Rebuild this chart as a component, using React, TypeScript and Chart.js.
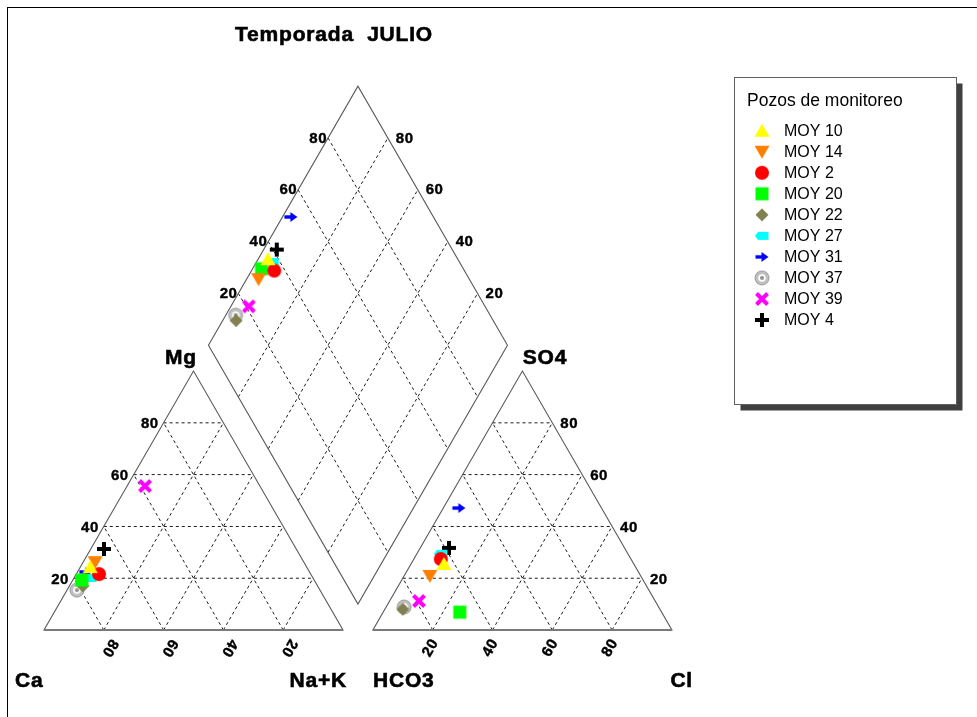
import React, { useEffect, useRef } from "react";
import { Chart, registerables } from "chart.js";

Chart.register(...registerables);

// ---------------- data (percent of meq) ----------------
const chartTitle = "Temporada  JULIO";
const legendTitle = "Pozos de monitoreo";
const samples = ["MOY 10", "MOY 14", "MOY 2", "MOY 20", "MOY 22", "MOY 27", "MOY 31", "MOY 37", "MOY 39", "MOY 4"];
const caPct = [72.4, 69.8, 70.8, 77.7, 78.5, 74.6, 74.8, 81.3, 38.4, 64.3];
const mgPct = [24.3, 26.2, 21.6, 19.3, 17.0, 20.1, 22.4, 15.4, 55.6, 31.3];
const naKPct = [3.3, 4.0, 7.6, 3.0, 4.5, 5.3, 2.8, 3.3, 6.0, 4.4];
const hco3Pct = [63.5, 70.5, 63.6, 67.5, 86.0, 62.6, 47.7, 85.1, 79.0, 58.7];
const so4Pct = [25.5, 20.9, 27.4, 6.9, 8.0, 29.4, 47.1, 8.9, 11.2, 31.7];
const clPct = [11.0, 8.6, 9.0, 25.6, 6.0, 8.0, 5.2, 6.0, 9.8, 9.6];
const gridLevels = [20, 40, 60, 80];
const markerColors = ["#ffff00", "#ff8000", "#ff0000", "#00ff00", "#808050", "#00ffff", "#0000ff", "#c0c0c0", "#ff00ff", "#000000"];
const markerShapes = ["triUp", "triDown", "circle", "square", "diamond", "tag", "arrow", "ring", "xcross", "plus"];

// ---------------- geometry ----------------
const W = 977;
const H = 717;
const SQ = Math.sqrt(3) / 2;
const GAP = 10;
const PX = 2.99;
const OX = 44;
const OY = 630;

type Pt = { x: number; y: number };
const cationXY = (mg: number, na: number): Pt => ({ x: na + mg / 2, y: mg * SQ });
const anionXY = (so4: number, cl: number): Pt => ({ x: 100 + GAP + cl + so4 / 2, y: so4 * SQ });
const diamondXY = (na: number, an: number): Pt => {
  const t = 100 + GAP + an - na;
  return { x: na + t / 2, y: t * SQ };
};

function makeMarker(shape: string, color: string): HTMLCanvasElement {
  const c = document.createElement("canvas");
  c.width = 20;
  c.height = 20;
  const g = c.getContext("2d")!;
  g.fillStyle = color;
  g.strokeStyle = color;
  const poly = (pts: number[][]) => {
    g.beginPath();
    g.moveTo(pts[0][0], pts[0][1]);
    for (let i = 1; i < pts.length; i++) g.lineTo(pts[i][0], pts[i][1]);
    g.closePath();
    g.fill();
  };
  switch (shape) {
    case "triUp":
      poly([[10, 3], [17.5, 16], [2.5, 16]]);
      break;
    case "triDown":
      poly([[2.5, 4], [17.5, 4], [10, 17]]);
      break;
    case "circle":
      g.beginPath();
      g.arc(10, 10, 7, 0, Math.PI * 2);
      g.fill();
      break;
    case "square":
      g.fillRect(3.5, 3.5, 13, 13);
      break;
    case "diamond":
      poly([[10, 3.5], [16.5, 10], [10, 16.5], [3.5, 10]]);
      break;
    case "tag":
      poly([[3, 10], [6, 6], [16.5, 6], [16.5, 14], [6, 14]]);
      break;
    case "arrow":
      g.fillRect(3.5, 8.3, 7, 3.4);
      poly([[9.5, 5], [16.5, 10], [9.5, 15]]);
      break;
    case "ring":
      g.beginPath();
      g.arc(10, 10, 7, 0, Math.PI * 2);
      g.fill();
      g.strokeStyle = "#9a9a9a";
      g.lineWidth = 1;
      g.stroke();
      g.fillStyle = "#ffffff";
      g.beginPath();
      g.arc(10, 10, 3.8, 0, Math.PI * 2);
      g.fill();
      g.fillStyle = "#909090";
      g.beginPath();
      g.arc(10, 10, 2, 0, Math.PI * 2);
      g.fill();
      break;
    case "xcross":
      g.lineWidth = 4;
      g.beginPath();
      g.moveTo(4.5, 4.5);
      g.lineTo(15.5, 15.5);
      g.moveTo(15.5, 4.5);
      g.lineTo(4.5, 15.5);
      g.stroke();
      break;
    case "plus":
      g.lineWidth = 4;
      g.beginPath();
      g.moveTo(10, 3);
      g.lineTo(10, 17);
      g.moveTo(3, 10);
      g.lineTo(17, 10);
      g.stroke();
      break;
  }
  return c;
}

function heavyText(ctx: CanvasRenderingContext2D, t: string, x: number, y: number) {
  ctx.fillText(t, x, y);
  ctx.strokeText(t, x, y);
}

const piperPlugin = {
  id: "piperFrame",
  beforeDatasetsDraw(chart: any) {
    const ctx: CanvasRenderingContext2D = chart.ctx;
    const xs = chart.scales.x;
    const ys = chart.scales.y;
    const P = (p: Pt) => [xs.getPixelForValue(p.x), ys.getPixelForValue(p.y)];
    const seg = (a: Pt, b: Pt) => {
      const [x1, y1] = P(a);
      const [x2, y2] = P(b);
      ctx.beginPath();
      ctx.moveTo(x1, y1);
      ctx.lineTo(x2, y2);
      ctx.stroke();
    };
    ctx.save();
    // outer frame
    ctx.strokeStyle = "#000";
    ctx.lineWidth = 1;
    ctx.strokeRect(7.5, 7.5, 1400, 1400);

    // dashed grid
    ctx.setLineDash([3, 3]);
    ctx.strokeStyle = "#000";
    ctx.lineWidth = 0.9;
    for (const k of gridLevels) {
      // cation
      seg(cationXY(k, 0), cationXY(k, 100 - k));
      seg(cationXY(0, k), cationXY(100 - k, k));
      seg(cationXY(0, 100 - k), cationXY(100 - k, 0));
      // anion
      seg(anionXY(k, 0), anionXY(k, 100 - k));
      seg(anionXY(0, k), anionXY(100 - k, k));
      seg(anionXY(0, 100 - k), anionXY(100 - k, 0));
      // diamond
      seg(diamondXY(k, 0), diamondXY(k, 100));
      seg(diamondXY(0, k), diamondXY(100, k));
    }
    ctx.setLineDash([]);

    // outlines
    ctx.strokeStyle = "#5a5a5a";
    ctx.lineWidth = 1.1;
    const poly = (pts: Pt[]) => {
      ctx.beginPath();
      pts.forEach((p, i) => {
        const [x, y] = P(p);
        if (i === 0) ctx.moveTo(x, y);
        else ctx.lineTo(x, y);
      });
      ctx.closePath();
      ctx.stroke();
    };
    poly([cationXY(0, 0), cationXY(0, 100), cationXY(100, 0)]);
    poly([anionXY(0, 0), anionXY(0, 100), anionXY(100, 0)]);
    poly([diamondXY(0, 0), diamondXY(0, 100), diamondXY(100, 100), diamondXY(100, 0)]);
    // thicker bases
    ctx.strokeStyle = "#7a7a7a";
    ctx.lineWidth = 2;
    seg(cationXY(0, 0), cationXY(0, 100));
    seg(anionXY(0, 0), anionXY(0, 100));

    // labels
    ctx.fillStyle = "#000";
    ctx.strokeStyle = "#000";
    ctx.lineWidth = 0.6;
    (ctx as any).letterSpacing = "0.8px";
    ctx.font = "bold 21px 'Liberation Sans', Arial, sans-serif";
    ctx.textBaseline = "alphabetic";
    ctx.textAlign = "center";
    heavyText(ctx, chartTitle, 334, 41);
    heavyText(ctx, "Mg", 181, 364);
    heavyText(ctx, "SO4", 545, 364);
    ctx.textAlign = "left";
    heavyText(ctx, "Ca", 15, 687);
    heavyText(ctx, "HCO3", 373, 687);
    ctx.textAlign = "right";
    heavyText(ctx, "Na+K", 347, 687);
    heavyText(ctx, "Cl", 693, 687);

    (ctx as any).letterSpacing = "0.5px";
    ctx.font = "bold 15px 'Liberation Sans', Arial, sans-serif";
    ctx.lineWidth = 0.4;
    for (const k of gridLevels) {
      let [x, y] = P(cationXY(k, 0));
      ctx.textAlign = "right";
      heavyText(ctx, String(k), x - 5, y + 5.5);
      [x, y] = P(anionXY(k, 100 - k));
      ctx.textAlign = "left";
      heavyText(ctx, String(k), x + 8, y + 5.5);
      [x, y] = P(diamondXY(0, k));
      ctx.textAlign = "right";
      heavyText(ctx, String(k), x - 1, y + 4.5);
      [x, y] = P(diamondXY(100 - k, 100));
      ctx.textAlign = "left";
      heavyText(ctx, String(k), x + 8, y + 4.5);
    }
    ctx.textAlign = "center";
    ctx.textBaseline = "middle";
    for (const k of gridLevels) {
      let [x, y] = P(cationXY(0, k));
      ctx.save();
      ctx.translate(x + 6, y + 18);
      ctx.rotate((2 * Math.PI) / 3);
      heavyText(ctx, String(100 - k), 0, 0);
      ctx.restore();
      [x, y] = P(anionXY(0, k));
      ctx.save();
      ctx.translate(x - 2, y + 18);
      ctx.rotate(-Math.PI / 3);
      heavyText(ctx, String(k), 0, 0);
      ctx.restore();
    }
    ctx.restore();
  },
  afterDraw(chart: any) {
    const ctx: CanvasRenderingContext2D = chart.ctx;
    ctx.save();
    const bx = 734.5, by = 77.5, bw = 222, bh = 327;
    ctx.fillStyle = "#404040";
    ctx.fillRect(bx + 6, by + 6, bw, bh);
    ctx.fillStyle = "#ffffff";
    ctx.fillRect(bx, by, bw, bh);
    ctx.strokeStyle = "#606060";
    ctx.lineWidth = 1;
    ctx.strokeRect(bx, by, bw, bh);
    ctx.fillStyle = "#000";
    ctx.textAlign = "left";
    ctx.textBaseline = "middle";
    ctx.font = "17.5px 'Liberation Sans', Arial, sans-serif";
    ctx.fillText(legendTitle, 747, 101);
    ctx.font = "16px 'Liberation Sans', Arial, sans-serif";
    chart.data.datasets.forEach((ds: any, i: number) => {
      const y = 130.7 + i * 21.03;
      const img = ds.pointStyle as HTMLCanvasElement;
      ctx.drawImage(img, 762 - img.width / 2, y - img.height / 2);
      ctx.fillText(ds.label, 784, y + 1);
    });
    ctx.restore();
  },
};

export default function App() {
  const ref = useRef<HTMLCanvasElement>(null);
  useEffect(() => {
    const datasets = samples.map((name, i) => ({
      label: name,
      data: [
        cationXY(mgPct[i], naKPct[i]),
        anionXY(so4Pct[i], clPct[i]),
        diamondXY(naKPct[i], so4Pct[i] + clPct[i]),
      ],
      pointStyle: makeMarker(markerShapes[i], markerColors[i]),
      showLine: false,
      pointRadius: 8,
      pointHoverRadius: 8,
      ca: caPct[i],
      hco3: hco3Pct[i],
    }));
    const chart = new Chart(ref.current!, {
      type: "scatter",
      data: { datasets: datasets as any },
      options: {
        animation: false,
        responsive: false,
        layout: { padding: 0, autoPadding: false },
        events: [],
        scales: {
          x: { type: "linear", display: false, min: -OX / PX, max: (W - OX) / PX },
          y: { type: "linear", display: false, min: -(H - OY) / PX, max: OY / PX },
        },
        plugins: { legend: { display: false }, tooltip: { enabled: false }, title: { display: false } },
      },
      plugins: [piperPlugin],
    });
    return () => chart.destroy();
  }, []);
  return (
    <div style={{ position: "fixed", left: 0, top: 0, width: W, height: H, background: "#fff" }}>
      <canvas ref={ref} width={W} height={H} style={{ display: "block" }} />
    </div>
  );
}
